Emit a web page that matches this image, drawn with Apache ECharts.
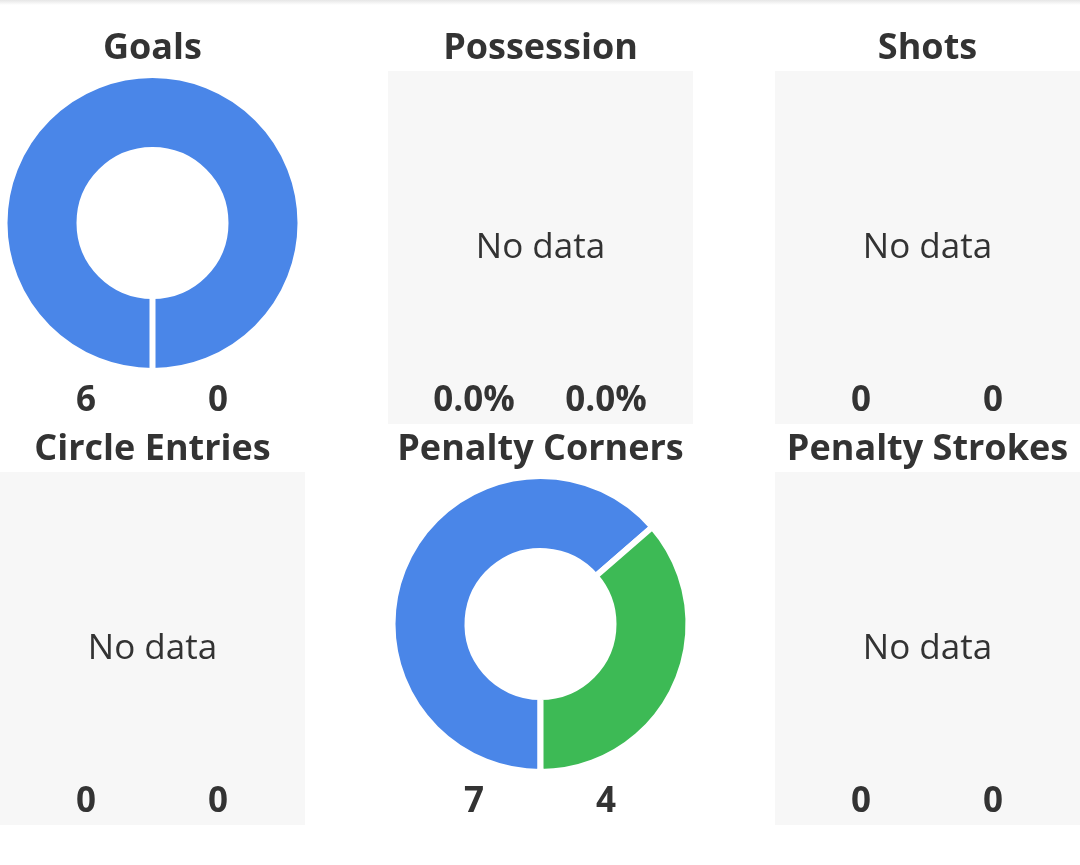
<!DOCTYPE html>
<html>
<head>
<meta charset="utf-8">
<title>Match stats</title>
<script src="https://cdn.jsdelivr.net/npm/echarts@6/dist/echarts.min.js"></script>
<style>
  html, body { margin: 0; padding: 0; background: #fff; }
  #main { width: 1080px; height: 865px; }
</style>
</head>
<body>
<div id="main"></div>
<script>
  // stats per panel (home team / away team)
  const panelTitles = ['Goals', 'Possession', 'Shots', 'Circle Entries', 'Penalty Corners', 'Penalty Strokes'];
  const homeValues = [6, 0, 0, 0, 7, 0];
  const awayValues = [0, 0, 0, 0, 4, 0];
  const isPercent = [false, true, false, false, false, false];
  const teamColors = ['#4a86e8', '#3dba55'];

  const colLeft = [0, 388, 775];
  const rowTop = [0, 401];
  const panelW = 305;
  const font = '"Open Sans", "Noto Sans", sans-serif';

  const chart = echarts.init(document.getElementById('main'));

  const graphic = [];
  const series = [];

  // faint shadow on top edge
  graphic.push({
    type: 'rect',
    shape: { x: 0, y: 0, width: 1080, height: 5 },
    style: {
      fill: new echarts.graphic.LinearGradient(0, 0, 0, 1, [
        { offset: 0, color: '#e6e6e6' },
        { offset: 1, color: '#ffffff' }
      ])
    },
    silent: true
  });

  panelTitles.forEach((name, i) => {
    const x0 = colLeft[i % 3];
    const y0 = rowTop[Math.floor(i / 3)];
    const cx = x0 + panelW / 2;
    const total = homeValues[i] + awayValues[i];

    graphic.push({
      type: 'text',
      x: cx, y: y0 + 49,
      style: {
        text: name, fill: '#333', font: 'bold 36px ' + font,
        textAlign: 'center', textVerticalAlign: 'middle'
      }
    });

    if (total === 0) {
      // empty panel
      graphic.push({
        type: 'rect',
        shape: { x: x0, y: y0 + 71, width: panelW, height: 353 },
        style: { fill: '#f7f7f7' },
        z: -1
      });
      graphic.push({
        type: 'text',
        x: cx, y: y0 + 248,
        style: {
          text: 'No data', fill: '#333', font: '35px ' + font,
          textAlign: 'center', textVerticalAlign: 'middle'
        }
      });
    } else {
      series.push({
        type: 'pie',
        center: [cx, y0 + 223],
        radius: [73, 148],
        startAngle: 270,
        clockwise: true,
        label: { show: false },
        labelLine: { show: false },
        silent: true,
        animation: false,
        itemStyle: { borderColor: '#fff', borderWidth: 6 },
        data: [
          { name: 'home', value: homeValues[i], itemStyle: { color: teamColors[0] } },
          { name: 'away', value: awayValues[i], itemStyle: { color: teamColors[1] } }
        ]
      });
    }

    const fmt = v => isPercent[i] ? v.toFixed(1) + '%' : String(v);
    [homeValues[i], awayValues[i]].forEach((v, k) => {
      graphic.push({
        type: 'text',
        x: x0 + (k === 0 ? 86 : 218), y: y0 + 401,
        style: {
          text: fmt(v), fill: '#333', font: 'bold 35px ' + font,
          textAlign: 'center', textVerticalAlign: 'middle'
        }
      });
    });
  });

  chart.setOption({
    backgroundColor: '#fff',
    animation: false,
    graphic: graphic,
    series: series
  });
</script>
</body>
</html>
